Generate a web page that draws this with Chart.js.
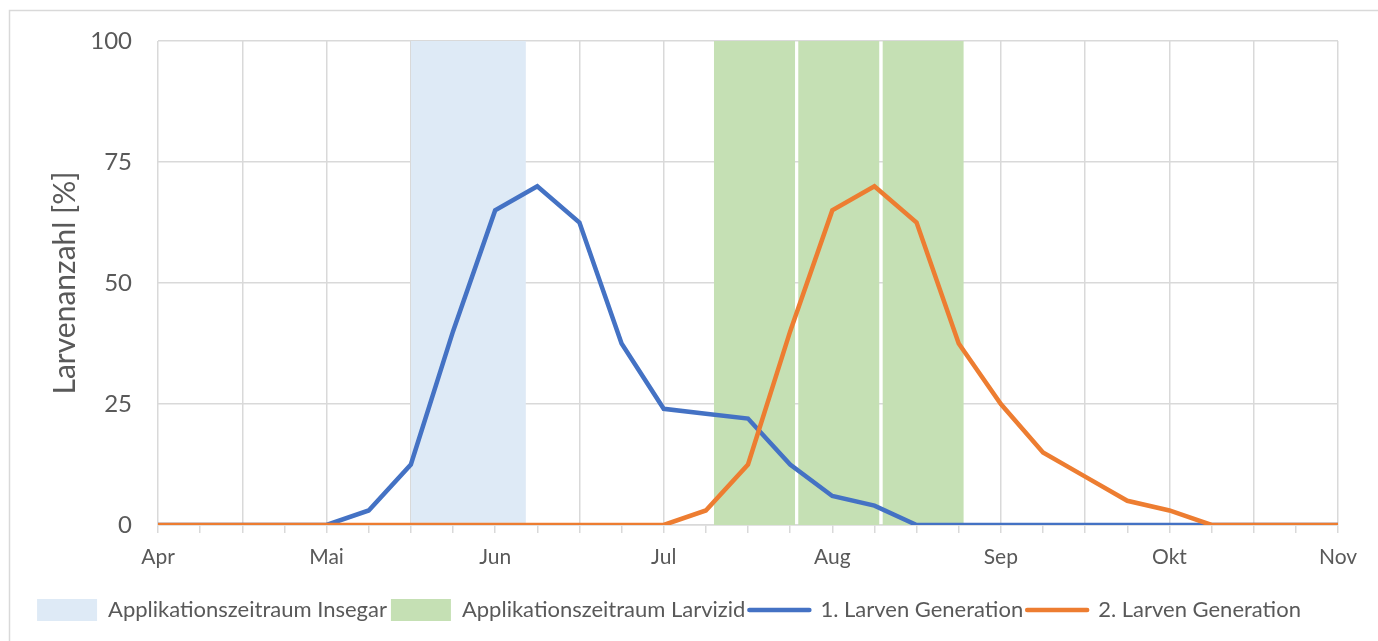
<!DOCTYPE html>
<html>
<head>
<meta charset="utf-8">
<script src="https://cdn.jsdelivr.net/npm/chart.js@4.4.1/dist/chart.umd.min.js"></script>
<style>
  html, body { margin: 0; padding: 0; background: #fff; }
  #wrap { width: 1378px; height: 641px; }
</style>
</head>
<body>
<div id="wrap"><canvas id="chart"></canvas></div>
<script>
// ======= Daten =======
// x-Achse: Viertelmonate ab Anfang April (0 = Apr, 4 = Mai, ... 28 = Nov)
const monate = ["Apr", "Mai", "Jun", "Jul", "Aug", "Sep", "Okt", "Nov"];
const schritte = [0,1,2,3,4,5,6,7,8,9,10,11,12,13,14,15,16,17,18,19,20,21,22,23,24,25,26,27,28];

const generation1 = [0, 0, 0, 0, 0, 3, 12.5, 40, 65, 70, 62.5, 37.5, 24, 23, 22, 12.5, 6, 4, 0, 0, 0, 0, 0, 0, 0, 0, 0, 0, 0];
const generation2 = [0, 0, 0, 0, 0, 0, 0, 0, 0, 0, 0, 0, 0, 3, 12.5, 40, 65, 70, 62.5, 37.5, 25, 15, 10, 5, 3, 0, 0, 0, 0];

// Applikationszeitraeume (Beginn / Ende in Viertelmonaten)
const insegarBeginn = [6.0];
const insegarEnde = [8.73];
const larvizidBeginn = [13.19, 15.19, 17.19];
const larvizidEnde = [15.12, 17.12, 19.12];
const bandHoehe = 100;

const yTicks = [0, 25, 50, 75, 100];

// ======= Farben / Schrift =======
const BLAU = "#4472C4";
const ORANGE = "#ED7D31";
const HELLBLAU = "#DEEAF6";
const GRUEN = "#C5E0B4";
const GRID = "#D9D9D9";
const TEXT = "#595959";
const FONT = "Lato, 'Open Sans', sans-serif";

function band(label, von, bis, farbe) {
  return {
    label,
    type: "line",
    data: [{ x: von, y: bandHoehe }, { x: bis, y: bandHoehe }],
    backgroundColor: farbe,
    borderColor: farbe,
    borderWidth: 0,
    pointRadius: 0,
    pointHoverRadius: 0,
    fill: "origin",
    order: 10
  };
}

const datasets = [];
insegarBeginn.forEach((b, i) => datasets.push(band("Applikationszeitraum Insegar", b, insegarEnde[i], HELLBLAU)));
larvizidBeginn.forEach((b, i) => datasets.push(band("Applikationszeitraum Larvizid", b, larvizidEnde[i], GRUEN)));

datasets.push({
  label: "1. Larven Generation",
  data: schritte.map((x, i) => ({ x, y: generation1[i] })),
  borderColor: BLAU,
  backgroundColor: BLAU,
  borderWidth: 4.5,
  pointRadius: 0,
  tension: 0,
  fill: false,
  order: 2
});
datasets.push({
  label: "2. Larven Generation",
  data: schritte.map((x, i) => ({ x, y: generation2[i] })),
  borderColor: ORANGE,
  backgroundColor: ORANGE,
  borderWidth: 4.5,
  pointRadius: 0,
  tension: 0,
  fill: false,
  order: 1
});

// aeusserer Rahmen wie im Excel-Diagramm
const rahmen = {
  id: "rahmen",
  beforeDraw(chart) {
    const c = chart.ctx;
    c.save();
    c.strokeStyle = GRID;
    c.lineWidth = 1.5;
    c.beginPath();
    c.moveTo(9.5, chart.height);
    c.lineTo(9.5, 10.5);
    c.lineTo(chart.width, 10.5);
    c.stroke();
    c.restore();
  }
};

const ctx = document.getElementById("chart").getContext("2d");

new Chart(ctx, {
  type: "line",
  data: { datasets },
  plugins: [rahmen],
  options: {
    responsive: true,
    maintainAspectRatio: false,
    animation: false,
    layout: { padding: { left: 0, top: 41, right: 40, bottom: 10 } },
    scales: {
      x: {
        type: "linear",
        min: 0,
        max: 28,
        afterFit: s => { s.height = 70; },
        afterBuildTicks: s => { s.ticks = schritte.map(v => ({ value: v })); },
        ticks: {
          autoSkip: false,
          maxRotation: 0,
          padding: 12,
          color: TEXT,
          font: { family: FONT, size: 21 },
          callback: v => (v % 4 === 0 ? monate[v / 4] : "")
        },
        grid: {
          color: c => (c.tick && c.tick.value % 2 === 0 ? GRID : "rgba(0,0,0,0)"),
          tickColor: GRID,
          tickLength: 8,
          lineWidth: 1.5
        },
        border: { color: GRID, width: 1.5 }
      },
      y: {
        min: 0,
        max: 100,
        afterFit: s => { s.width = 158; },
        afterBuildTicks: s => { s.ticks = yTicks.map(v => ({ value: v })); },
        ticks: {
          padding: 26,
          color: TEXT,
          font: { family: FONT, size: 24 }
        },
        grid: { color: GRID, lineWidth: 1.5, drawTicks: false },
        border: { display: false },
        title: {
          display: true,
          text: "Larvenanzahl [%]",
          color: TEXT,
          font: { family: FONT, size: 30 },
          padding: { top: 47, bottom: 0 }
        }
      }
    },
    plugins: {
      tooltip: { enabled: false },
      legend: {
        position: "bottom",
        labels: {
          color: TEXT,
          font: { family: FONT, size: 22 },
          usePointStyle: true,
          pointStyleWidth: 60,
          padding: 4,
          generateLabels: chart => {
            const gesehen = {};
            const items = [];
            chart.data.datasets.forEach((d, i) => {
              if (gesehen[d.label]) return;
              gesehen[d.label] = true;
              const istBand = d.fill === "origin";
              items.push({
                text: d.label,
                datasetIndex: i,
                fillStyle: d.backgroundColor,
                strokeStyle: istBand ? d.backgroundColor : d.borderColor,
                lineWidth: istBand ? 0 : 4.5,
                lineCap: "round",
                pointStyle: istBand ? "rect" : "line",
                fontColor: TEXT,
                hidden: false
              });
            });
            return items;
          }
        }
      }
    }
  }
});
</script>
</body>
</html>
